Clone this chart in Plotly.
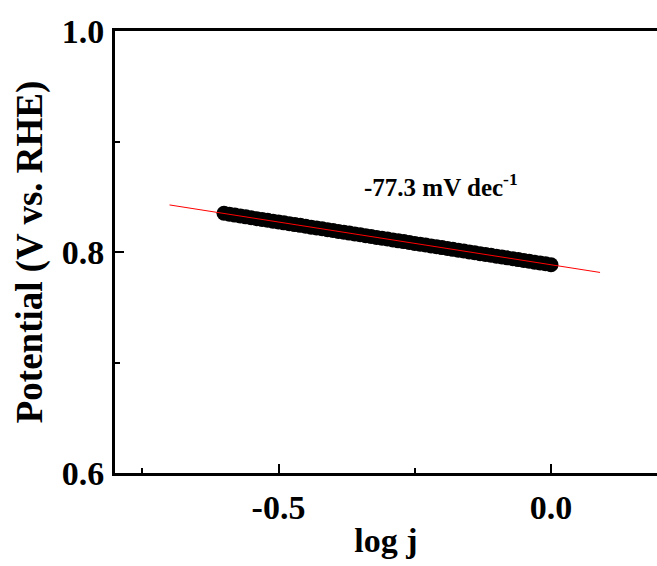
import plotly.graph_objects as go

# Data
log_j = [-0.60, -0.59, -0.58, -0.57, -0.56, -0.55, -0.54, -0.53, -0.52, -0.51,
         -0.50, -0.49, -0.48, -0.47, -0.46, -0.45, -0.44, -0.43, -0.42, -0.41,
         -0.40, -0.39, -0.38, -0.37, -0.36, -0.35, -0.34, -0.33, -0.32, -0.31,
         -0.30, -0.29, -0.28, -0.27, -0.26, -0.25, -0.24, -0.23, -0.22, -0.21,
         -0.20, -0.19, -0.18, -0.17, -0.16, -0.15, -0.14, -0.13, -0.12, -0.11,
         -0.10, -0.09, -0.08, -0.07, -0.06, -0.05, -0.04, -0.03, -0.02, -0.01,
         0.00]
potential = [0.8351, 0.8342, 0.8334, 0.8326, 0.8318, 0.8310, 0.8302, 0.8295, 0.8287, 0.8279,
             0.8272, 0.8264, 0.8256, 0.8248, 0.8241, 0.8233, 0.8225, 0.8217, 0.8210, 0.8202,
             0.8194, 0.8186, 0.8179, 0.8171, 0.8163, 0.8156, 0.8148, 0.8140, 0.8132, 0.8125,
             0.8117, 0.8109, 0.8101, 0.8094, 0.8086, 0.8078, 0.8071, 0.8063, 0.8055, 0.8047,
             0.8040, 0.8032, 0.8024, 0.8016, 0.8009, 0.8001, 0.7993, 0.7985, 0.7978, 0.7970,
             0.7962, 0.7955, 0.7947, 0.7939, 0.7931, 0.7924, 0.7916, 0.7908, 0.7900, 0.7893,
             0.7884]
fit_x = [-0.70, 0.09]
fit_y = [0.8426, 0.7815]
slope_label = "-77.3 mV dec<sup>-1</sup>"
x_tickvals = [-0.5, 0.0]
x_ticktext = ["-0.5", "0.0"]
y_tickvals = [0.6, 0.8, 1.0]
y_ticktext = ["0.6", "0.8", "1.0"]

FONT = "Liberation Serif"

fig = go.Figure()
fig.add_trace(go.Scatter(
    x=log_j, y=potential, mode="markers",
    marker=dict(symbol="circle", size=15, color="black", line=dict(width=0)),
    showlegend=False, hoverinfo="skip"))
fig.add_trace(go.Scatter(
    x=fit_x, y=fit_y, mode="lines",
    line=dict(color="red", width=1),
    showlegend=False, hoverinfo="skip"))

fig.add_annotation(
    x=-0.202, y=0.8606, xref="x", yref="y", text=slope_label, showarrow=False,
    xanchor="center", yanchor="middle",
    font=dict(family=FONT, size=25, color="black", weight="bold"))

fig.update_layout(
    width=657, height=566,
    margin=dict(l=115, r=0, t=31, b=93),
    paper_bgcolor="white", plot_bgcolor="white",
    font=dict(family=FONT, color="black"),
    xaxis=dict(
        range=[-0.8, 0.1945], showgrid=False, zeroline=False,
        showline=True, linecolor="black", linewidth=3, mirror=True,
        ticks="inside", ticklen=9, tickwidth=2, tickcolor="black",
        tickvals=x_tickvals, ticktext=x_ticktext,
        tickfont=dict(family=FONT, size=34, color="black", weight="bold"),
        ticklabelstandoff=2,
        minor=dict(tickvals=[-0.75, -0.25, 0.25], ticks="inside", ticklen=5,
                   tickwidth=2, tickcolor="black"),
        title=dict(text="log j", standoff=4,
                   font=dict(family=FONT, size=34, color="black", weight="bold")),
    ),
    yaxis=dict(
        range=[0.6, 1.0], showgrid=False, zeroline=False,
        showline=True, linecolor="black", linewidth=3, mirror=False,
        ticks="inside", ticklen=9, tickwidth=2, tickcolor="black",
        tickvals=y_tickvals, ticktext=y_ticktext,
        tickfont=dict(family=FONT, size=34, color="black", weight="bold"),
        ticklabelstandoff=1,
        minor=dict(tickvals=[0.7, 0.9], ticks="inside", ticklen=5,
                   tickwidth=2, tickcolor="black"),
        title=dict(text="Potential (V vs. RHE)", standoff=8,
                   font=dict(family=FONT, size=37, color="black", weight="bold")),
    ),
)

fig.write_html("out.html")
